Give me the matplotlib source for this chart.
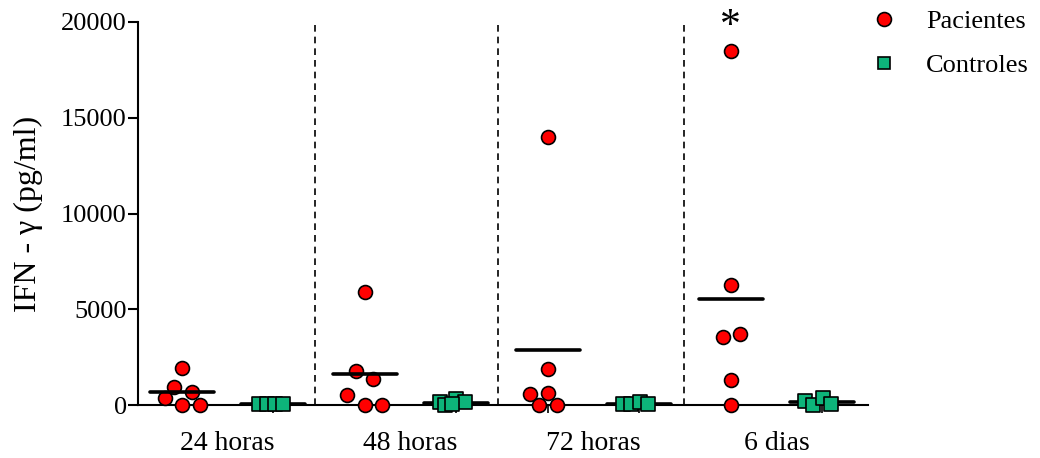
import matplotlib
matplotlib.use("Agg")
import matplotlib.pyplot as plt
from matplotlib.lines import Line2D
import numpy as np

plt.rcParams['font.family'] = ['Liberation Serif', 'DejaVu Serif']

groups = ["24 horas", "48 horas", "72 horas", "6 dias"]
pacientes = [
    [1950, 940, 680, 365, 0, 0],
    [5900, 1780, 1360, 520, 0, 0],
    [14000, 1880, 630, 575, 0, 0],
    [18500, 6270, 3700, 3550, 1300, 0],
]
controles = [
    [30, 30, 30, 30],
    [150, 0, 300, 150, 30],
    [50, 50, 150, 50],
    [200, 0, 350, 50],
]
yticks = [0, 5000, 10000, 15000, 20000]

# layout (horizontal jitter of points, in category units)
pac_dx = [
    [0, -0.09, 0.11, -0.18, 0, 0.2],
    [0, -0.1, 0.09, -0.2, 0, 0.19],
    [0, 0, 0, -0.19, -0.1, 0.1],
    [0, 0, 0.1, -0.09, 0, 0],
]
con_dx = [
    [-0.16, -0.07, 0.02, 0.10],
    [-0.18, -0.12, 0.0, 0.09, -0.05],
    [-0.18, -0.09, 0.01, 0.1],
    [-0.19, -0.1, 0.01, 0.1],
]

RED = '#FF0000'
GREEN = '#0DB47A'

fig = plt.figure(figsize=(10.4, 4.58), dpi=100)
ax = fig.add_axes([138/1040, 1-405/458, (868-138)/1040, (405-22)/458])

for i in range(4):
    xp = 2*i
    xc = 2*i + 1
    ax.scatter(np.array(pac_dx[i]) + xp, pacientes[i], s=100, marker='o',
               facecolor=RED, edgecolor='black', linewidth=1.2, zorder=4, clip_on=False)
    ax.scatter(np.array(con_dx[i]) + xc, controles[i], s=90, marker='s',
               facecolor=GREEN, edgecolor='black', linewidth=1.2, zorder=4, clip_on=False)
    ax.plot([xp-0.35, xp+0.35], [np.mean(pacientes[i])]*2, color='black', lw=2.6,
            solid_capstyle='round', zorder=5)
    ax.plot([xc-0.35, xc+0.35], [np.mean(controles[i])]*2, color='black', lw=2.6,
            solid_capstyle='round', zorder=3)

for xd in [1.45, 3.45, 5.49]:
    ax.axvline(xd, color='black', lw=1.2, ls=(0, (4, 3)), zorder=1)

ax.set_xlim(-0.48, 7.5)
ax.set_ylim(0, 20000)
ax.set_yticks(yticks)
ax.set_yticklabels([str(v) for v in yticks])
ax.set_xticks(range(8))
ax.set_xticklabels([''] * 8)
ax.set_xticks([0.5, 2.5, 4.5, 6.5], minor=True)
ax.set_xticklabels(groups, minor=True)
ax.tick_params(axis='x', which='major', length=6, width=1.2, direction='out')
ax.tick_params(axis='x', which='minor', length=0, labelsize=20, pad=19)
ax.tick_params(axis='y', length=7, width=1.5, direction='out', labelsize=19, pad=1)
for s in ['top', 'right']:
    ax.spines[s].set_visible(False)
for s in ['left', 'bottom']:
    ax.spines[s].set_linewidth(1.5)
ax.set_ylabel('IFN - γ (pg/ml)', fontsize=23, labelpad=13)

ax.text(6, 19200, '*', ha='center', va='baseline', fontsize=30, clip_on=False)

handles = [
    Line2D([], [], ls='none', marker='o', markersize=10, markerfacecolor=RED,
           markeredgecolor='black', markeredgewidth=1.2),
    Line2D([], [], ls='none', marker='s', markersize=9, markerfacecolor=GREEN,
           markeredgecolor='black', markeredgewidth=1.2),
]
fig.legend(handles, ['Pacientes', 'Controles'], loc='upper left',
           bbox_to_anchor=(834/1040, 1.03), frameon=False, fontsize=19,
           handlelength=2.0, handletextpad=0.6, labelspacing=0.75)

fig.savefig('out.png', dpi=100)
